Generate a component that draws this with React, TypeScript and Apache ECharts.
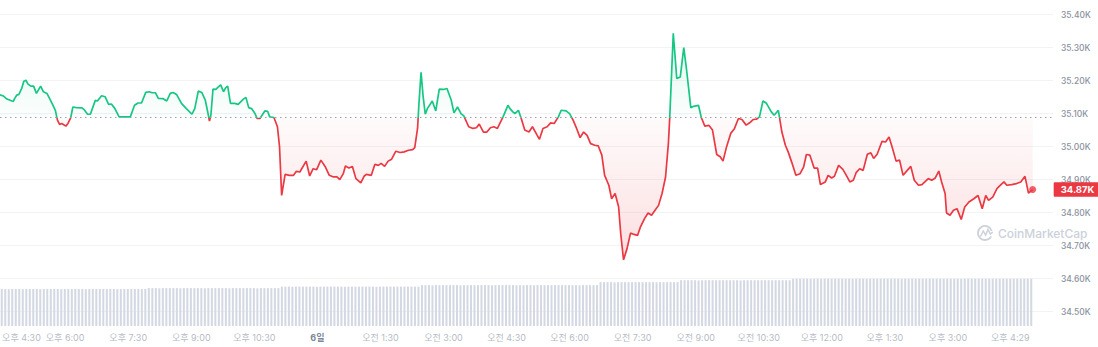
import React, { useEffect, useRef } from 'react';
import * as echarts from 'echarts';

// minutes since 오후 4:30 (day 5)
const times = [
  -3, 2, 7, 14, 16, 18, 21, 24, 28, 31, 34, 37, 41, 45, 49, 55, 59, 64, 67, 72,
  76, 79, 82, 85, 88, 91, 94, 98, 101, 106, 114, 117, 122, 126, 133, 136, 142, 147, 152, 156,
  161, 167, 175, 183, 189, 194, 199, 205, 210, 214, 219, 223, 230, 235, 240, 244, 249, 256, 263, 271,
  275, 280, 285, 290, 293, 296, 298, 301, 305, 308, 312, 316, 319, 322, 326, 332, 337, 344, 348, 352,
  356, 361, 364, 368, 375, 379, 382, 388, 393, 396, 399, 404, 410, 416, 420, 425, 434, 439, 444, 449,
  455, 461, 467, 473, 478, 482, 487, 490, 495, 500, 505, 512, 517, 520, 527, 532, 537, 541, 546, 551,
  556, 562, 568, 574, 580, 586, 589, 593, 595, 598, 601, 604, 607, 614, 619, 624, 630, 635, 641, 645,
  650, 655, 659, 666, 672, 677, 681, 687, 692, 697, 702, 707, 715, 722, 725, 729, 732, 737, 741, 746,
  752, 757, 763, 767, 772, 778, 783, 788, 794, 798, 805, 810, 815, 820, 825, 830, 835, 840, 846, 851,
  856, 860, 866, 870, 875, 880, 883, 887, 892, 897, 902, 907, 911, 917, 922, 927, 932, 937, 942, 947,
  951, 953, 958, 963, 968, 973, 977, 983, 987, 994, 998, 1003, 1009, 1014, 1020, 1025, 1029, 1034, 1040, 1045,
  1051, 1056, 1062, 1067, 1072, 1077, 1081, 1086, 1091, 1098, 1102, 1108, 1113, 1118, 1122, 1127, 1133, 1139, 1144, 1148,
  1153, 1159, 1164, 1168, 1175, 1179, 1184, 1188, 1194, 1200, 1205, 1210, 1215, 1219, 1224, 1229, 1235, 1240, 1244, 1249,
  1256, 1261, 1266, 1271, 1276, 1281, 1286, 1292, 1297, 1302, 1308, 1313, 1322, 1327, 1332, 1337, 1341, 1346, 1348, 1353,
  1358, 1363, 1369, 1374, 1380, 1387, 1393, 1399, 1404, 1408, 1414, 1420, 1425, 1430, 1434, 1441, 1448, 1454, 1460, 1465,
  1471,
];

// price in thousands of USD
const prices = [
  35.157, 35.153, 35.144, 35.138, 35.137, 35.146, 35.156, 35.158, 35.176, 35.198, 35.201, 35.189, 35.183, 35.183, 35.161, 35.183, 35.166, 35.161, 35.149, 35.128,
  35.110, 35.080, 35.067, 35.070, 35.066, 35.062, 35.070, 35.088, 35.120, 35.118, 35.117, 35.112, 35.098, 35.098, 35.140, 35.138, 35.154, 35.151, 35.128, 35.129,
  35.115, 35.090, 35.090, 35.090, 35.125, 35.132, 35.132, 35.164, 35.166, 35.163, 35.163, 35.146, 35.145, 35.138, 35.161, 35.164, 35.158, 35.131, 35.115, 35.098,
  35.115, 35.168, 35.164, 35.141, 35.110, 35.077, 35.095, 35.174, 35.173, 35.179, 35.187, 35.166, 35.178, 35.183, 35.131, 35.131, 35.128, 35.143, 35.149, 35.118,
  35.115, 35.100, 35.085, 35.085, 35.108, 35.107, 35.090, 35.088, 35.060, 34.999, 34.852, 34.916, 34.913, 34.913, 34.925, 34.923, 34.956, 34.911, 34.933, 34.930,
  34.959, 34.940, 34.913, 34.908, 34.908, 34.900, 34.918, 34.941, 34.935, 34.940, 34.903, 34.890, 34.911, 34.916, 34.913, 34.946, 34.943, 34.949, 34.940, 34.956,
  34.962, 34.986, 34.982, 34.984, 34.989, 34.991, 34.997, 35.055, 35.131, 35.225, 35.151, 35.098, 35.115, 35.138, 35.108, 35.174, 35.173, 35.176, 35.141, 35.102,
  35.120, 35.100, 35.093, 35.060, 35.055, 35.057, 35.068, 35.044, 35.044, 35.057, 35.060, 35.055, 35.090, 35.125, 35.115, 35.105, 35.100, 35.110, 35.085, 35.050,
  35.044, 35.060, 35.037, 35.022, 35.055, 35.060, 35.072, 35.070, 35.090, 35.110, 35.108, 35.100, 35.080, 35.055, 35.027, 35.044, 35.034, 35.009, 35.004, 35.002,
  34.974, 34.913, 34.883, 34.842, 34.858, 34.817, 34.736, 34.657, 34.691, 34.738, 34.734, 34.731, 34.756, 34.782, 34.799, 34.792, 34.807, 34.822, 34.858, 34.908,
  35.009, 35.090, 35.343, 35.206, 35.211, 35.300, 35.232, 35.118, 35.122, 35.125, 35.088, 35.062, 35.064, 35.050, 34.976, 34.969, 34.956, 34.999, 35.040, 35.053,
  35.085, 35.082, 35.065, 35.072, 35.082, 35.083, 35.090, 35.138, 35.131, 35.105, 35.095, 35.110, 35.044, 35.004, 34.984, 34.953, 34.913, 34.918, 34.938, 34.976,
  34.974, 34.935, 34.935, 34.885, 34.893, 34.913, 34.905, 34.910, 34.943, 34.931, 34.913, 34.893, 34.898, 34.921, 34.933, 34.928, 34.977, 34.981, 34.964, 34.977,
  35.016, 35.014, 35.029, 34.994, 34.956, 34.959, 34.913, 34.928, 34.940, 34.898, 34.883, 34.885, 34.903, 34.898, 34.905, 34.926, 34.893, 34.858, 34.799, 34.792,
  34.807, 34.812, 34.779, 34.817, 34.832, 34.842, 34.852, 34.812, 34.852, 34.837, 34.847, 34.873, 34.883, 34.893, 34.883, 34.885, 34.888, 34.893, 34.910, 34.859,
  34.870,
];

// opening price of the period (dotted reference line)
const baseline = 35.088;

// 24h volume per 5-minute bar, billions USD
const volumes = [
  17.4, 17.4, 17.3, 17.4, 17.4, 17.4, 17.3, 17.4, 17.4, 17.4, 17.4, 17.3, 17.4, 17.4, 17.4, 17.4, 17.4, 17.3, 17.4, 17.4,
  17.4, 17.4, 17.4, 17.4, 17.3, 17.4, 17.4, 17.4, 17.4, 17.4, 17.4, 17.4, 17.4, 17.3, 17.4, 17.4, 17.4, 17.4, 17.4, 17.4,
  17.4, 17.4, 17.8, 17.8, 17.8, 17.7, 17.8, 17.8, 17.8, 17.8, 17.8, 17.7, 17.8, 17.8, 17.8, 17.8, 17.8, 17.8, 17.7, 17.8,
  17.8, 17.8, 17.8, 17.8, 17.8, 17.7, 17.8, 17.8, 17.8, 17.8, 17.8, 17.8, 17.8, 17.7, 17.8, 17.8, 17.8, 17.8, 17.8, 17.8,
  18.5, 18.5, 18.5, 18.4, 18.5, 18.5, 18.5, 18.5, 18.5, 18.5, 18.4, 18.5, 18.5, 18.5, 18.5, 18.5, 18.5, 18.5, 18.4, 18.5,
  18.5, 18.5, 18.5, 18.5, 18.5, 18.5, 18.5, 18.4, 18.5, 18.5, 18.5, 18.5, 18.5, 18.5, 18.5, 18.5, 18.5, 18.5, 18.5, 18.5,
  19.2, 19.2, 19.2, 19.1, 19.2, 19.2, 19.2, 19.2, 19.2, 19.2, 19.2, 19.1, 19.2, 19.2, 19.2, 19.2, 19.2, 19.2, 19.2, 19.2,
  19.1, 19.2, 19.2, 19.2, 19.2, 19.2, 19.2, 19.2, 19.2, 19.2, 19.2, 19.2, 19.1, 19.2, 19.2, 19.2, 19.2, 19.2, 19.2, 19.2,
  19.2, 19.2, 19.2, 19.2, 19.2, 19.1, 19.2, 19.2, 19.2, 19.2, 19.2, 20.6, 20.6, 20.6, 20.6, 20.5, 20.6, 20.6, 20.6, 20.6,
  20.6, 20.6, 20.6, 20.6, 20.6, 20.6, 20.6, 20.5, 20.6, 20.6, 20.6, 20.6, 20.6, 20.6, 21.5, 21.5, 21.5, 21.5, 21.5, 21.4,
  21.5, 21.5, 21.5, 21.5, 21.5, 21.5, 21.5, 21.5, 21.5, 21.5, 21.5, 21.4, 21.5, 21.5, 21.5, 21.5, 21.5, 21.5, 21.5, 21.5,
  21.5, 21.5, 21.5, 21.5, 21.5, 21.5, 22.2, 22.2, 22.2, 22.2, 22.2, 22.1, 22.2, 22.2, 22.2, 22.2, 22.2, 22.2, 22.2, 22.2,
  22.2, 22.2, 22.2, 22.1, 22.2, 22.2, 22.2, 22.2, 22.2, 22.2, 22.2, 22.2, 22.2, 22.2, 22.2, 22.2, 22.2, 22.1, 22.2, 22.2,
  22.2, 22.2, 22.2, 22.2, 22.2, 22.2, 22.2, 22.2, 22.2, 22.2, 22.2, 22.2, 22.2, 22.2, 22.1, 22.2, 22.2, 22.2, 22.2, 22.2,
  22.2, 22.2, 22.2, 22.2, 22.2, 22.2, 22.2, 22.2, 22.2, 22.2, 22.2, 22.2, 22.2, 22.2, 22.2,
];

const tickTimes = [0, 90, 180, 270, 360, 450, 540, 630, 720, 810, 900, 990, 1080, 1170, 1260, 1350, 1439];
const tickLabels = [
  '오후 4:30', '오후 6:00', '오후 7:30', '오후 9:00', '오후 10:30', '6일', '오전 1:30', '오전 3:00', '오전 4:30',
  '오전 6:00', '오전 7:30', '오전 9:00', '오전 10:30', '오후 12:00', '오후 1:30', '오후 3:00', '오후 4:29',
];

const FONT = 'Inter, "Noto Sans CJK KR", "Noto Sans", sans-serif';
const GREEN = '#16c784';
const RED = '#ea3943';
const TMIN = -3;
const TMAX = 1500;

export default function App() {
  const ref = useRef<HTMLDivElement>(null);

  useEffect(() => {
    const el = ref.current;
    if (!el) return;
    const chart = echarts.init(el, null, { renderer: 'svg' });
    const lineData = times.map((t, i) => [t, prices[i]]);
    const last = lineData[lineData.length - 1];
    const volCats = volumes.map((_, i) => String(i));
    const labelData = tickTimes.map((t, i) => {
      const item: any = { value: [t, 0.5] };
      if (i === 0) item.label = { align: 'left' };
      if (tickLabels[i] === '6일') item.label = { fontWeight: 'bold', color: '#58667e' };
      return item;
    });

    const H = 347;
    const baseY = 14.5 + (35.4 - baseline) / 0.9 * (347 - 14.5 - 35.3);
    const off = baseY / H;

    const option: any = {
      animation: false,
      textStyle: { fontFamily: FONT },
      grid: [
        { left: 0, right: 45, top: 14.5, bottom: 35.3 },
        { left: 0, right: 65, top: 270, bottom: 21 },
        { left: 0, right: 45, top: 330, bottom: 3 },
      ],
      xAxis: [
        {
          type: 'value', gridIndex: 0, min: TMIN, max: TMAX,
          axisLine: { show: false }, axisTick: { show: false }, splitLine: { show: false },
          axisLabel: { show: false },
        },
        { type: 'category', gridIndex: 1, data: volCats, boundaryGap: true, show: false },
        { type: 'value', gridIndex: 2, min: TMIN, max: TMAX, show: false },
      ],
      yAxis: [
        {
          type: 'value', gridIndex: 0, position: 'right', min: 34.5, max: 35.4, interval: 0.1,
          axisLine: { show: false }, axisTick: { show: false },
          splitLine: { lineStyle: { color: '#f2f3f5', width: 1 } },
          axisLabel: {
            margin: 8, fontSize: 8.5, fontWeight: 500, color: '#8a919e', fontFamily: FONT,
            formatter: (v: number) => v.toFixed(2) + 'K',
          },
        },
        { type: 'value', gridIndex: 1, min: 0, max: 26.3, show: false },
        { type: 'value', gridIndex: 2, min: 0, max: 1, show: false },
      ],
      visualMap: {
        show: false, type: 'piecewise', seriesIndex: 0, dimension: 1,
        pieces: [
          { gt: baseline, lte: 40, color: GREEN },
          { gte: 30, lte: baseline, color: RED },
        ],
      },
      series: [
        {
          type: 'line', xAxisIndex: 0, yAxisIndex: 0, data: lineData,
          showSymbol: false, symbol: 'none', smooth: false,
          lineStyle: { width: 1.7 },
          areaStyle: {
            origin: baseline,
            color: {
              type: 'linear', x: 0, y: 0, x2: 0, y2: H, global: true,
              colorStops: [
                { offset: 0, color: 'rgba(22,199,132,0.26)' },
                { offset: off - 0.001, color: 'rgba(22,199,132,0.02)' },
                { offset: off, color: 'rgba(234,57,67,0.03)' },
                { offset: 0.76, color: 'rgba(234,57,67,0.24)' },
                { offset: 1, color: 'rgba(234,57,67,0.3)' },
              ],
            },
          },
          markLine: {
            silent: true, symbol: 'none', animation: false,
            label: { show: false },
            lineStyle: { type: [1.5, 3.5], color: '#9aa1ad', width: 1 },
            data: [{ yAxis: baseline }],
          },
          endLabel: {
            show: true, distance: 21, color: '#fff', backgroundColor: RED,
            fontSize: 9.5, fontWeight: 'bold', fontFamily: FONT,
            padding: [3, 7, 2, 7], borderRadius: 1,
            formatter: (p: any) => Number(p.value[1]).toFixed(2) + 'K',
          },
          z: 3,
        },
        {
          type: 'scatter', xAxisIndex: 0, yAxisIndex: 0, data: [last],
          symbol: 'circle', symbolSize: 7, itemStyle: { color: RED }, z: 4, silent: true,
        },
        {
          type: 'bar', xAxisIndex: 1, yAxisIndex: 1, data: volumes,
          barWidth: '58%', itemStyle: { color: '#d3d8e3' }, silent: true,
        },
        {
          type: 'scatter', xAxisIndex: 2, yAxisIndex: 2, data: labelData,
          symbolSize: 0, silent: true,
          label: {
            show: true, position: 'inside', fontSize: 9, color: '#a1a7b3', fontFamily: FONT,
            formatter: (p: any) => tickLabels[p.dataIndex],
          },
        },
      ],
      graphic: [
        {
          type: 'group', silent: true, z: 0,
          children: [
            { type: 'arc', shape: { cx: 985, cy: 233, r: 7, startAngle: 0.5, endAngle: Math.PI * 2 - 0.3 },
              style: { stroke: '#ccd1da', lineWidth: 1.8, fill: 'none' } },
            { type: 'polyline', shape: { points: [[980.5, 236.5], [983.3, 231], [985.6, 235], [988, 229.5], [990.4, 234], [992.8, 232]] },
              style: { stroke: '#ccd1da', lineWidth: 1.5, fill: 'none' } },
            { type: 'text', x: 998, y: 233,
              style: { text: 'CoinMarketCap', fontSize: 12, fontWeight: 500, fontFamily: FONT, fill: '#ccd1da', verticalAlign: 'middle', align: 'left' } },
          ],
        },
      ],
    };

    chart.setOption(option);
    return () => chart.dispose();
  }, []);

  return (
    <div
      ref={ref}
      style={{ position: 'absolute', left: 0, top: 0, width: 1098, height: 347, background: '#fff' }}
    />
  );
}
